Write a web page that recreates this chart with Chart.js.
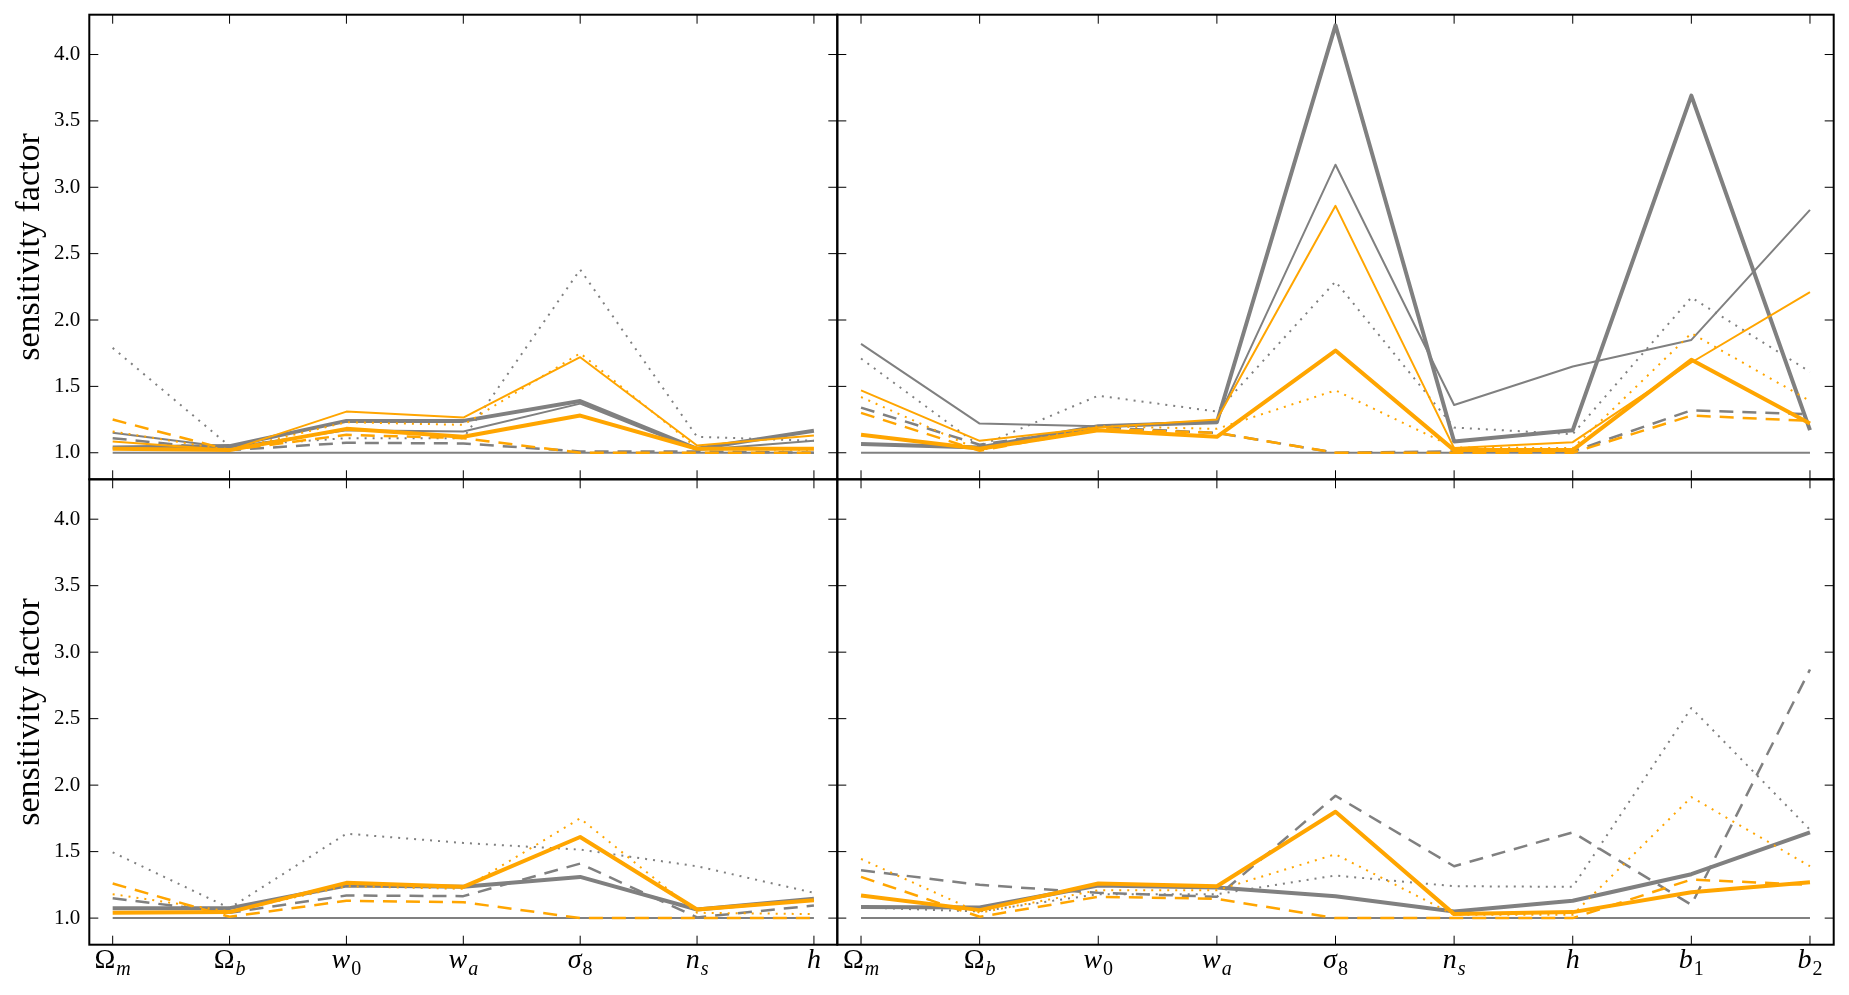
<!DOCTYPE html>
<html>
<head>
<meta charset="utf-8">
<script src="https://cdn.jsdelivr.net/npm/chart.js@4.4.0/dist/chart.umd.min.js"></script>
<style>
    body { margin: 0; background: #fff; }
    #wrap { position: relative; width: 1849px; height: 995px; }
    #wrap canvas { position: absolute; left: 0; top: 0; }
</style>
</head>
<body>
<div id="wrap">
    <canvas id="Chart-TL" width="1849" height="995"></canvas>
    <canvas id="Chart-TR" width="1849" height="995"></canvas>
    <canvas id="Chart-BL" width="1849" height="995"></canvas>
    <canvas id="Chart-BR" width="1849" height="995"></canvas>
</div>
<script>
// parameter labels: main symbol + subscript
const tickMain = ['Ω', 'Ω', 'w', 'w', 'σ', 'n', 'h', 'b', 'b'];
const tickSub = ['m', 'b', '0', 'a', '8', 's', '', '1', '2'];
const yTicks = [1.0, 1.5, 2.0, 2.5, 3.0, 3.5, 4.0];

// top left (cosmology only)
const tlBase = [1, 1, 1, 1, 1, 1, 1];
const tlGrayThick = [1.04, 1.05, 1.24, 1.24, 1.39, 1.03, 1.165];
const tlGrayThin = [1.15, 1.04, 1.17, 1.16, 1.37, 1.02, 1.09];
const tlGrayDashed = [1.11, 1.02, 1.075, 1.07, 1.01, 1.01, 1.0];
const tlGrayDotted = [1.79, 1.05, 1.11, 1.11, 2.38, 1.12, 1.09];
const tlOrangeThick = [1.03, 1.02, 1.18, 1.12, 1.28, 1.03, 1.03];
const tlOrangeThin = [1.085, 1.02, 1.31, 1.265, 1.72, 1.055, 1.13];
const tlOrangeDashed = [1.25, 1.02, 1.135, 1.11, 1.0, 1.0, 1.0];
const tlOrangeDotted = [1.16, 1.02, 1.23, 1.21, 1.75, 1.035, 1.02];

// top right (with bias)
const trBase = [1, 1, 1, 1, 1, 1, 1, 1, 1];
const trGrayThick = [1.065, 1.04, 1.20, 1.23, 4.22, 1.085, 1.17, 3.69, 1.17];
const trGrayThin = [1.82, 1.22, 1.20, 1.24, 3.17, 1.36, 1.65, 1.85, 2.83];
const trGrayDashed = [1.34, 1.06, 1.19, 1.15, 1.0, 1.01, 1.01, 1.32, 1.29];
const trGrayDotted = [1.71, 1.05, 1.43, 1.31, 2.29, 1.19, 1.14, 2.17, 1.61];
const trOrangeThick = [1.135, 1.03, 1.17, 1.12, 1.77, 1.02, 1.02, 1.70, 1.22];
const trOrangeThin = [1.47, 1.09, 1.19, 1.25, 2.86, 1.035, 1.08, 1.68, 2.21];
const trOrangeDashed = [1.30, 1.015, 1.18, 1.15, 1.0, 1.0, 1.0, 1.28, 1.24];
const trOrangeDotted = [1.42, 1.02, 1.20, 1.18, 1.47, 1.04, 1.035, 1.90, 1.39];

// bottom left
const blBase = [1, 1, 1, 1, 1, 1, 1];
const blGrayThick = [1.075, 1.075, 1.245, 1.235, 1.31, 1.065, 1.145];
const blGrayDashed = [1.15, 1.04, 1.17, 1.165, 1.41, 1.005, 1.095];
const blGrayDotted = [1.495, 1.075, 1.635, 1.565, 1.515, 1.39, 1.19];
const blOrangeThick = [1.04, 1.045, 1.265, 1.235, 1.61, 1.065, 1.135];
const blOrangeDashed = [1.26, 1.01, 1.13, 1.12, 1.0, 1.0, 1.0];
const blOrangeDotted = [1.18, 1.05, 1.24, 1.22, 1.75, 1.04, 1.03];

// bottom right
const brBase = [1, 1, 1, 1, 1, 1, 1, 1, 1];
const brGrayThick = [1.083, 1.08, 1.245, 1.23, 1.165, 1.05, 1.13, 1.33, 1.645];
const brGrayDashed = [1.36, 1.25, 1.19, 1.16, 1.92, 1.39, 1.645, 1.10, 2.87];
const brGrayDotted = [1.08, 1.05, 1.18, 1.18, 1.32, 1.24, 1.235, 2.58, 1.665];
const brOrangeThick = [1.17, 1.06, 1.26, 1.24, 1.80, 1.03, 1.045, 1.195, 1.27];
const brOrangeDashed = [1.31, 1.01, 1.16, 1.145, 1.0, 1.0, 1.0, 1.29, 1.25];
const brOrangeDotted = [1.445, 1.04, 1.21, 1.21, 1.48, 1.025, 1.025, 1.91, 1.39];

const GRAY = '#808080';
const ORANGE = '#ffa500';
const lineStyles = {
    base: { width: 2, dash: [] },
    thick: { width: 4, dash: [] },
    thin: { width: 2, dash: [] },
    dashed: { width: 2.5, dash: [14, 9] },
    dotted: { width: 2, dash: [2, 6] }
};

// builds one dataset; first in list is drawn at the bottom
function line(values, color, style) {
    const s = lineStyles[style];
    return {
        data: values.map((v, i) => ({ x: i, y: v })),
        borderColor: color,
        borderWidth: s.width,
        borderDash: s.dash,
        borderCapStyle: 'butt',
        borderJoinStyle: 'round',
        pointRadius: 0,
        fill: false,
        tension: 0
    };
}

function drawParamLabel(ctx, px, baseY, i) {
    const main = tickMain[i], sub = tickSub[i];
    const mainFont = (main === 'Ω' ? '' : 'italic ') + '28px "Liberation Serif"';
    const subFont = (/[0-9]/.test(sub) ? '' : 'italic ') + '20px "Liberation Serif"';
    ctx.font = mainFont;
    const mw = ctx.measureText(main).width;
    ctx.font = subFont;
    const sw = sub ? ctx.measureText(sub).width + 1 : 0;
    const x0 = px - (mw + sw) / 2;
    ctx.textAlign = 'left';
    ctx.textBaseline = 'alphabetic';
    ctx.fillStyle = '#000';
    ctx.font = mainFont;
    ctx.fillText(main, x0, baseY);
    if (sub) {
        ctx.font = subFont;
        ctx.fillText(sub, x0 + mw + 1, baseY + 7);
    }
}

// frame, inward ticks on all four sides, and x labels with subscripts
const framePlugin = {
    id: 'frame',
    afterDraw(chart, args, opts) {
        const { ctx, chartArea: a, scales: { x, y } } = chart;
        ctx.save();
        ctx.strokeStyle = '#000';
        ctx.lineWidth = 1;
        ctx.beginPath();
        for (let i = 0; i < opts.count; i++) {
            const px = x.getPixelForValue(i);
            ctx.moveTo(px, a.bottom); ctx.lineTo(px, a.bottom - 9);
            ctx.moveTo(px, a.top); ctx.lineTo(px, a.top + 9);
        }
        yTicks.forEach(v => {
            const py = y.getPixelForValue(v);
            ctx.moveTo(a.left, py); ctx.lineTo(a.left + 9, py);
            ctx.moveTo(a.right, py); ctx.lineTo(a.right - 9, py);
        });
        ctx.stroke();
        ctx.lineWidth = 2;
        ctx.strokeRect(a.left, a.top, a.right - a.left, a.bottom - a.top);
        if (opts.xLabels) {
            for (let i = 0; i < opts.count; i++) {
                drawParamLabel(ctx, x.getPixelForValue(i), a.bottom + 23, i);
            }
        }
        ctx.restore();
    }
};

function makePanel(id, box, count, datasets, leftAxis, xLabels) {
    datasets.forEach((d, i) => { d.order = datasets.length - i; });
    return new Chart(document.getElementById(id), {
        type: 'line',
        data: { datasets: datasets },
        plugins: [framePlugin],
        options: {
            responsive: false,
            animation: false,
            layout: {
                padding: {
                    left: leftAxis ? 0 : box.left,
                    top: box.top,
                    right: 1849 - box.right,
                    bottom: 995 - box.bottom
                }
            },
            plugins: {
                legend: { display: false },
                tooltip: { enabled: false },
                frame: { count: count, xLabels: xLabels }
            },
            scales: {
                x: {
                    type: 'linear',
                    display: false,
                    min: -0.2,
                    max: count - 0.8
                },
                y: {
                    type: 'linear',
                    display: leftAxis,
                    min: 0.8,
                    max: 4.3,
                    afterBuildTicks: s => { s.ticks = yTicks.map(v => ({ value: v })); },
                    afterFit: s => {
                        s.width = leftAxis ? box.left : 0;
                        s.paddingTop = 0;
                        s.paddingBottom = 0;
                    },
                    grid: { display: false, drawTicks: false },
                    border: { display: false },
                    ticks: {
                        padding: 9,
                        color: '#000',
                        font: { family: 'Liberation Serif', size: 21 },
                        callback: v => v.toFixed(1)
                    },
                    title: {
                        display: true,
                        text: 'sensitivity factor',
                        color: '#000',
                        padding: { top: 10, bottom: 0 },
                        font: { family: 'Liberation Serif', size: 34 }
                    }
                }
            }
        }
    });
}

const TL = { left: 89.3, top: 14.7, right: 837.3, bottom: 479.3 };
const TR = { left: 837.3, top: 14.7, right: 1833.7, bottom: 479.3 };
const BL = { left: 89.3, top: 479.3, right: 837.3, bottom: 944.7 };
const BR = { left: 837.3, top: 479.3, right: 1833.7, bottom: 944.7 };

makePanel('Chart-TL', TL, 7, [
    line(tlBase, GRAY, 'base'),
    line(tlGrayDotted, GRAY, 'dotted'),
    line(tlGrayDashed, GRAY, 'dashed'),
    line(tlGrayThin, GRAY, 'thin'),
    line(tlGrayThick, GRAY, 'thick'),
    line(tlOrangeDotted, ORANGE, 'dotted'),
    line(tlOrangeDashed, ORANGE, 'dashed'),
    line(tlOrangeThin, ORANGE, 'thin'),
    line(tlOrangeThick, ORANGE, 'thick')
], true, false);

makePanel('Chart-TR', TR, 9, [
    line(trBase, GRAY, 'base'),
    line(trGrayDotted, GRAY, 'dotted'),
    line(trGrayDashed, GRAY, 'dashed'),
    line(trGrayThin, GRAY, 'thin'),
    line(trGrayThick, GRAY, 'thick'),
    line(trOrangeDotted, ORANGE, 'dotted'),
    line(trOrangeDashed, ORANGE, 'dashed'),
    line(trOrangeThin, ORANGE, 'thin'),
    line(trOrangeThick, ORANGE, 'thick')
], false, false);

makePanel('Chart-BL', BL, 7, [
    line(blBase, GRAY, 'base'),
    line(blGrayDotted, GRAY, 'dotted'),
    line(blGrayDashed, GRAY, 'dashed'),
    line(blGrayThick, GRAY, 'thick'),
    line(blOrangeDotted, ORANGE, 'dotted'),
    line(blOrangeDashed, ORANGE, 'dashed'),
    line(blOrangeThick, ORANGE, 'thick')
], true, true);

makePanel('Chart-BR', BR, 9, [
    line(brBase, GRAY, 'base'),
    line(brGrayDotted, GRAY, 'dotted'),
    line(brGrayDashed, GRAY, 'dashed'),
    line(brGrayThick, GRAY, 'thick'),
    line(brOrangeDotted, ORANGE, 'dotted'),
    line(brOrangeDashed, ORANGE, 'dashed'),
    line(brOrangeThick, ORANGE, 'thick')
], false, true);
</script>
</body>
</html>
